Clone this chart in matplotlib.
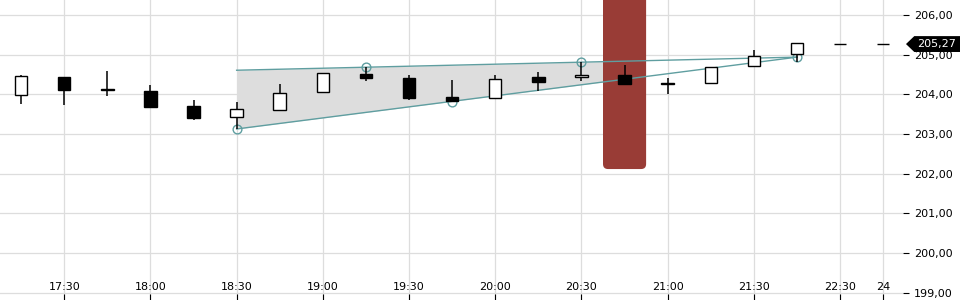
import matplotlib
matplotlib.use("Agg")
import matplotlib.pyplot as plt
from matplotlib.patches import FancyBboxPatch, Polygon
import matplotlib.transforms as mtransforms

# ---- data ----
opens  = [203.98, 204.44, 204.14, 204.09, 203.71, 203.42, 203.60, 204.05, 204.51, 204.41,
          203.93, 203.90, 204.44, 204.43, 204.49, 204.29, 204.28, 204.72, 205.01, 205.27, 205.27]
highs  = [204.49, 204.44, 204.59, 204.24, 203.86, 203.81, 204.26, 204.53, 204.70, 204.49,
          204.36, 204.49, 204.56, 204.82, 204.74, 204.41, 204.70, 205.12, 205.30, 205.27, 205.27]
lows   = [203.77, 203.73, 203.96, 203.66, 203.36, 203.13, 203.60, 204.05, 204.35, 203.87,
          203.81, 203.90, 204.09, 204.35, 204.27, 204.01, 204.28, 204.72, 204.81, 205.27, 205.27]
closes = [204.46, 204.11, 204.10, 203.68, 203.41, 203.63, 204.03, 204.53, 204.42, 203.92,
          203.83, 204.38, 204.32, 204.49, 204.27, 204.27, 204.70, 204.97, 205.30, 205.27, 205.27]

tick_idx    = [1, 3, 5, 7, 9, 11, 13, 15, 17, 19, 20]
tick_labels = ["17:30", "18:00", "18:30", "19:00", "19:30", "20:00", "20:30", "21:00", "21:30", "22:30", "24"]

y_ticks = [199, 200, 201, 202, 203, 204, 205, 206]

# wedge pattern
upper_line_x = [5, 18]
upper_line_y = [204.61, 204.94]
lower_line_x = [5, 18]
lower_line_y = [203.13, 204.94]
pivot_x = [5, 8, 10, 13, 18]
pivot_y = [203.13, 204.70, 203.82, 204.82, 204.94]
fill_end = 14

highlight_idx = 14
highlight_bottom = 202.12

last_price = 205.27

# ---- figure ----
fig = plt.figure(figsize=(9.6, 3.0), dpi=100)
ax = fig.add_axes([0, 0, 903 / 960, 1])
ax.set_xlim(-0.49, 20.46)
ax.set_ylim(198.82, 206.38)

for s in ax.spines.values():
    s.set_visible(False)

grid_c = "#dddddd"
for t in tick_idx:
    ax.axvline(t, color=grid_c, lw=0.9, zorder=0)
for yv in y_ticks:
    ax.axhline(yv, color=grid_c, lw=0.9, zorder=0)

teal = "#5f9ea0"

# fill of wedge
def interp(x, xs, ys):
    return ys[0] + (ys[1] - ys[0]) * (x - xs[0]) / (xs[1] - xs[0])

fx = [upper_line_x[0], fill_end]
fu = [interp(v, upper_line_x, upper_line_y) for v in fx]
fl = [interp(v, lower_line_x, lower_line_y) for v in fx]
ax.fill_between(fx, fl, fu, color="#dddddd", zorder=1, lw=0)

# highlight bar
rx = 5 / 43.1
bar = FancyBboxPatch((highlight_idx - 0.5, highlight_bottom), 1.0, 207.5 - highlight_bottom,
                     boxstyle=f"round,pad=0,rounding_size={rx}",
                     mutation_aspect=43.1 / 39.7,
                     facecolor="#993c36", edgecolor="none", zorder=2)
ax.add_patch(bar)

ax.plot(upper_line_x, upper_line_y, color=teal, lw=1, zorder=3)
ax.plot(lower_line_x, lower_line_y, color=teal, lw=1, zorder=3)
ax.plot(pivot_x, pivot_y, linestyle="none", marker="o", markersize=6.3,
        markerfacecolor="none", markeredgecolor=teal, mew=1, zorder=3)

# candles
xs = list(range(len(opens)))
ax.vlines(xs, lows, highs, color="black", lw=1.1, zorder=4)
for i in xs:
    o, c = opens[i], closes[i]
    up = c >= o
    ax.bar(i, max(abs(c - o), 0.0), bottom=min(o, c), width=0.29,
           facecolor="white" if up else "black", edgecolor="black", lw=1, zorder=5)

# axes ticks
ax.set_xticks(tick_idx)
ax.set_xticklabels(tick_labels)
ax.tick_params(axis="x", direction="in", length=4, width=0.8, pad=-13, labelsize=8,
               colors="black")
ax.yaxis.tick_right()
ax.set_yticks(y_ticks)
ax.set_yticklabels([f"{v:.2f}".replace(".", ",") for v in y_ticks])
ax.tick_params(axis="y", direction="out", length=4, width=0.8, pad=4, labelsize=8,
               colors="black")

# last price label
tr = mtransforms.blended_transform_factory(ax.transAxes, ax.transData)
h = 0.20
poly = Polygon([(1.0033, last_price), (1.0125, last_price + h), (1.08, last_price + h),
                (1.08, last_price - h), (1.0125, last_price - h)],
               closed=True, transform=tr, facecolor="black", edgecolor="none",
               clip_on=False, zorder=10)
ax.add_patch(poly)
ax.text(1.0155, last_price, f"{last_price:.2f}".replace(".", ","), transform=tr,
        color="white", fontsize=8, va="center", ha="left", clip_on=False, zorder=11)

fig.savefig("out.png", dpi=100)
